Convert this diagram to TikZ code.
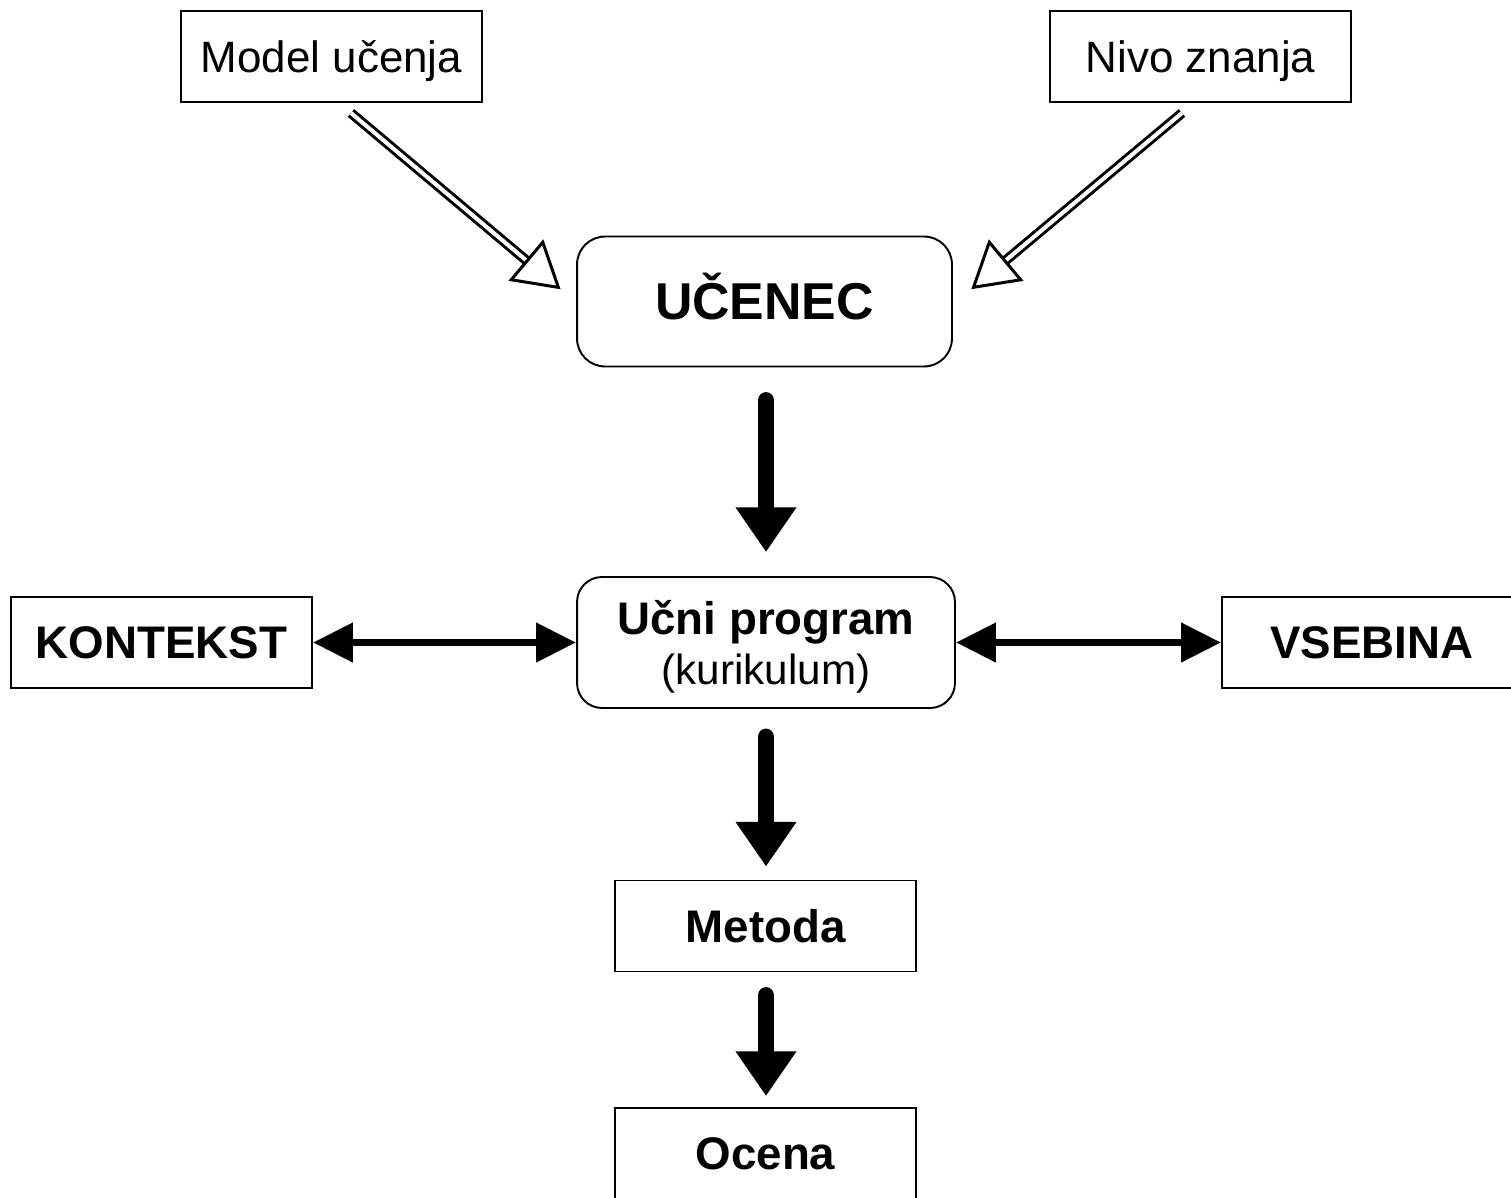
\documentclass[tikz,border=0pt]{standalone}
\usepackage{fontspec}
\setmainfont{Liberation Sans}
\usetikzlibrary{arrows.meta,calc}
\begin{document}
\begin{tikzpicture}[x=0.02cm,y=-0.02cm,
  box/.style={draw,line width=1.1pt,inner sep=0pt,minimum width=6.02cm,minimum height=1.82cm},
  rbox/.style={box,rounded corners=0.5cm},
  regtext/.style={font=\fontsize{25}{30}\selectfont,text depth=0pt},
  boldtext/.style={font=\fontsize{26}{30}\selectfont\bfseries},
  bigarrow/.style={line width=9.5pt,line cap=round,-{Triangle[length=25.5pt,width=33pt]}},
  twoway/.style={line width=4.5pt,{Triangle[length=22.7pt,width=21.5pt]}-{Triangle[length=22.7pt,width=21.5pt]}},
  dblshaft/.style={draw,line width=1.7pt,double=white,double distance=2.3pt},
  openhead/.style={draw,line width=1.7pt,fill=white,line join=miter}
]
\clip (0,0) rectangle (1511,1197);
\fill[white] (0,0) rectangle (1511,1197);

% boxes
\node[box,regtext] (model) at (331.5,56.5) {Model učenja};
\node[box,regtext] (nivo) at (1200.5,56.5) {Nivo znanja};
\node[rbox,minimum width=7.5cm,minimum height=2.6cm,rounded corners=0.56cm,
      font=\fontsize{29.5}{34}\selectfont\bfseries,text height=21pt,text depth=0pt] (ucenec) at (764.5,301.5) {UČENEC};
\node[rbox,minimum width=7.56cm,minimum height=2.62cm,align=center,text depth=0pt] (ucni) at (766,642.5)
  {{\fontsize{26}{28}\selectfont\bfseries Učni program}\\[5pt]{\fontsize{24}{28}\selectfont (kurikulum)}};
\node[box,boldtext] (kontekst) at (161.5,642.5) {KONTEKST};
\node[box,minimum width=6.02cm] (vsebina) at (1372.5,642.5) {};
\node[boldtext] (vsebinatext) at (1372,642.5) {VSEBINA};
\node[box,boldtext] (metoda) at (765.5,926) {Metoda};
\node[box,boldtext] (ocena) at (765.5,1153.5) {Ocena};

% double open arrows
\coordinate (ms) at (351,113);
\coordinate (mb) at (527,261);
\coordinate (mt) at ($(mb)!-0.82cm!(ms)$);
\coordinate (ns) at (1182,113);
\coordinate (nb) at (1005,261);
\coordinate (nt) at ($(nb)!-0.82cm!(ns)$);
\draw[dblshaft] (ms) -- (mb);
\draw[openhead] (mt) -- ($(mb)!0.49cm!90:(mt)$) -- ($(mb)!0.49cm!-90:(mt)$) -- cycle;
\draw[dblshaft] (ns) -- (nb);
\draw[openhead] (nt) -- ($(nb)!0.49cm!90:(nt)$) -- ($(nb)!0.49cm!-90:(nt)$) -- cycle;

% thick arrows
\draw[bigarrow,shorten <=0.66cm,shorten >=0.48cm] (ucenec.south -| ucni.north) -- (ucni.north);
\draw[bigarrow,shorten <=0.56cm,shorten >=0.26cm] (ucni.south) -- (ucni.south |- metoda.north);
\draw[bigarrow,shorten <=0.46cm,shorten >=0.22cm] (metoda.south -| ucni.south) -- (ucni.south |- ocena.north);

% two-way arrows
\draw[twoway] (kontekst.east) -- (ucni.west);
\draw[twoway] (ucni.east) -- (vsebina.west);
\end{tikzpicture}
\end{document}
